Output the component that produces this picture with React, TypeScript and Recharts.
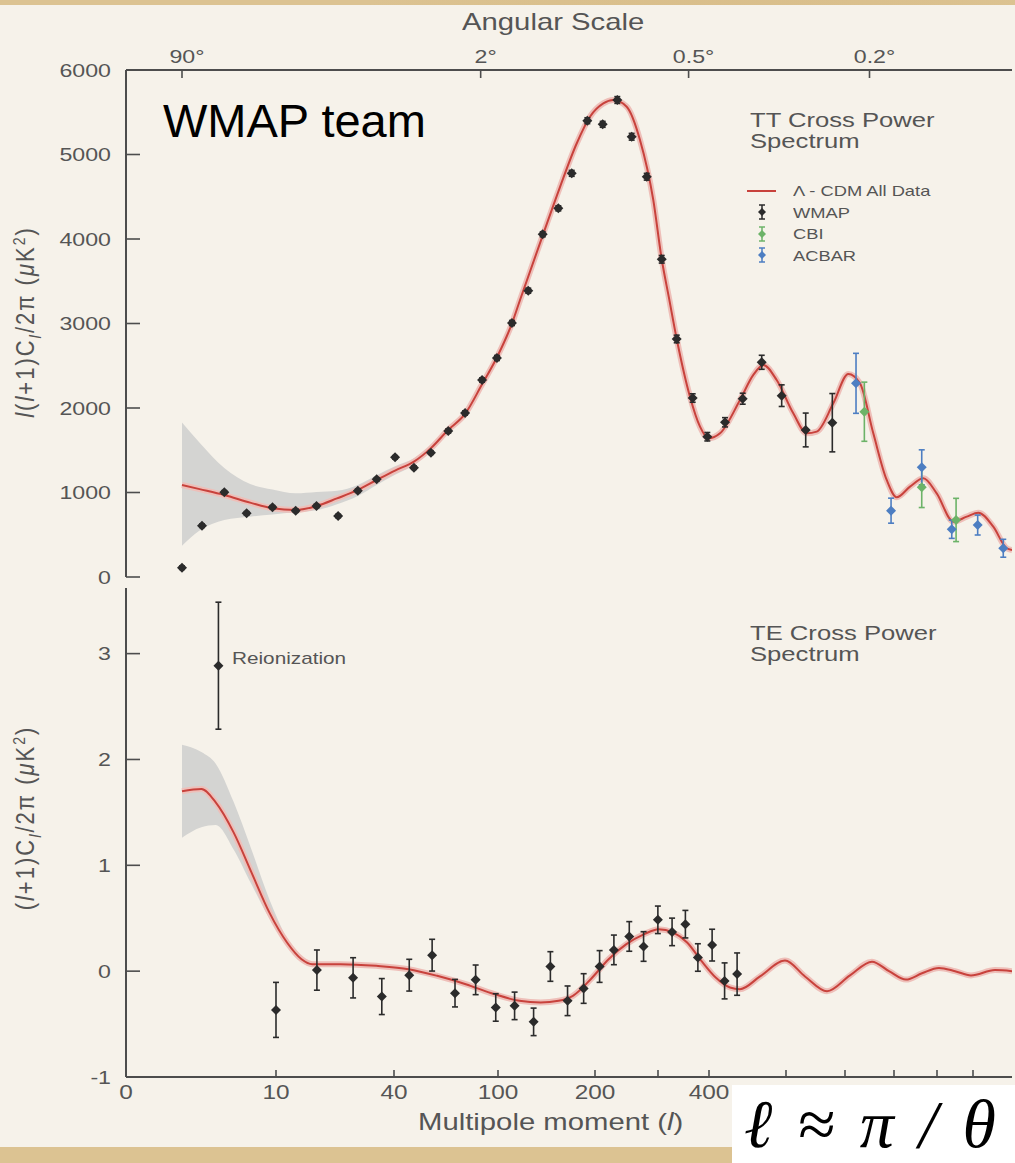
import React from "react";
import {
  Area,
  ComposedChart,
  ErrorBar,
  Legend,
  Line,
  Scatter,
  XAxis,
  YAxis,
} from "recharts";

// Multipole axis is non-linear: l values of the axis stops and their offset (px) from the left spine
const AXIS_ELL = [0, 2, 10, 40, 100, 200, 300, 400, 600, 800, 1000, 1200, 1400, 1650];
const AXIS_POS = [0, 56, 150, 268, 372, 469, 532, 583, 660, 719, 768, 811, 847, 886];

const ELL_TICKS = [0, 10, 40, 100, 200, 300, 400, 600, 800, 1000, 1200, 1400];
const ELL_LABELS = ["0", "10", "40", "100", "200", "", "400", "", "", "", "", ""];
const ANGLE_TICKS = [90, 2, 0.5, 0.2]; // degrees, l ~ 180 / theta
const TT_TICKS = [0, 1000, 2000, 3000, 4000, 5000, 6000];
const TE_TICKS = [-1, 0, 1, 2, 3];

// TT: [l, l(l+1)Cl/2pi, error]
const wmapTT = [
  [2.0, 110, 20], [3.7, 607, 20], [5.6, 1002, 20], [7.5, 754, 20], [9.7, 825, 20],
  [15.0, 785, 20], [20.3, 840, 20], [25.8, 722, 20], [30.8, 1021, 20], [35.6, 1156, 20],
  [40.6, 1416, 20], [51.5, 1294, 20], [61.3, 1471, 20], [71.3, 1728, 25], [81.0, 1941, 25],
  [90.8, 2331, 25], [99.4, 2592, 30], [114.4, 3006, 30], [131.2, 3388, 30], [146.1, 4056, 30],
  [162.2, 4363, 30], [176.0, 4777, 35], [192.1, 5400, 35], [212.2, 5357, 35], [235.4, 5645, 40],
  [258.2, 5210, 40], [282.1, 4737, 40], [307.3, 3760, 45], [336.7, 2817, 45], [368.0, 2118, 50],
  [396.7, 1660, 50], [441.6, 1831, 55], [487.5, 2110, 65], [536.9, 2541, 83], [588.8, 2146, 128],
  [666.8, 1740, 200], [757.0, 1826, 345],
];
const cbiTT = [[879, 1956, 350], [1129, 1062, 240], [1306, 675, 256]];
const acbarTT = [
  [845, 2292, 355], [988, 785, 148], [1129, 1298, 207],
  [1282, 565, 108], [1430, 615, 118], [1594, 340, 106],
];
const modelTT = [
  [2, 1089], [3.5, 1040], [5.6, 970], [7.8, 880], [9.7, 813], [15, 793], [20.3, 840],
  [25.5, 930], [30.8, 1030], [35.6, 1148], [40.6, 1260], [51.5, 1365], [61.3, 1525],
  [71.2, 1740], [81, 1930], [90.8, 2280], [99.4, 2600], [114.4, 3000], [122.7, 3278],
  [146.7, 4062], [163.9, 4615], [181.1, 5130], [194.8, 5447], [213.2, 5605], [229, 5645],
  [250.3, 5566], [271.4, 5172], [292.5, 4462], [307.3, 3760], [321.6, 3300], [336.7, 2817],
  [362.7, 2134], [382.4, 1779], [398.6, 1641], [428.6, 1700], [480.5, 2095], [515.1, 2391],
  [541, 2509], [575.8, 2331], [624.7, 1937], [670.2, 1700], [704.1, 1720], [760.3, 2055],
  [813.5, 2402], [861.2, 2292], [915.5, 1700], [970.2, 1148], [1012.6, 943], [1074.4, 1069],
  [1136.3, 1168], [1198.6, 990], [1290.6, 655], [1365.1, 714], [1434, 761], [1530, 595],
  [1616, 340], [1650, 320],
];
// cosmic variance band: [l, low, high]
const varianceTT = [
  [2, 370, 1827], [3.5, 550, 1590], [5.6, 675, 1290], [7.8, 714, 1100], [9.7, 740, 1035],
  [15, 765, 990], [20.3, 790, 1005], [25.5, 860, 1020], [30.8, 960, 1090], [35.6, 1090, 1205],
  [40.6, 1210, 1310], [51.5, 1325, 1405], [61.3, 1495, 1560], [71.2, 1712, 1768],
  [81, 1905, 1955],
];

// TE: [l, (l+1)Cl/2pi, error]
const wmapTE = [
  [10.0, -0.366, 0.26], [20.4, 0.01, 0.19], [29.6, -0.063, 0.19], [36.9, -0.24, 0.17],
  [48.8, -0.038, 0.15], [62.0, 0.151, 0.15], [75.2, -0.208, 0.13], [87.1, -0.082, 0.14],
  [98.7, -0.343, 0.13], [117.1, -0.328, 0.13], [136.7, -0.479, 0.13], [154.0, 0.044, 0.14],
  [171.7, -0.28, 0.14], [188.3, -0.164, 0.14], [207.3, 0.044, 0.15], [230.0, 0.201, 0.14],
  [254.4, 0.328, 0.14], [277.1, 0.233, 0.14], [299.8, 0.485, 0.13], [327.6, 0.371, 0.13],
  [353.7, 0.444, 0.13], [378.2, 0.129, 0.13], [408.1, 0.246, 0.15], [440.5, -0.092, 0.17],
  [473.0, -0.028, 0.2],
];
const reionization = [[5.1, 2.886, 0.6]];
const modelTE = [
  [2, 1.7], [3.65, 1.72], [4.87, 1.594], [6.39, 1.311], [7.91, 0.933], [9.43, 0.555],
  [12.8, 0.271], [16.5, 0.113], [19.2, 0.066], [26.4, 0.066], [35.5, 0.05], [48.4, 0.019],
  [64.9, -0.044], [81.4, -0.123], [97.9, -0.217], [122, -0.28], [144, -0.296], [162.5, -0.28],
  [177.2, -0.233], [195.6, -0.076], [221.6, 0.113], [249.8, 0.255], [278.2, 0.35],
  [301.2, 0.397], [329.2, 0.366], [357.1, 0.271], [385.1, 0.097], [417.4, -0.06],
  [454.5, -0.154], [480.5, -0.17], [532.5, -0.05], [597.4, 0.1], [664.4, -0.05], [739, -0.19],
  [820.4, -0.04], [910.2, 0.09], [979.6, 0.0], [1055.8, -0.08], [1130.2, -0.02], [1211, 0.03],
  [1300, 0.0], [1388.9, -0.04], [1541, 0.01], [1650, 0.0],
];
const varianceTE = [
  [2, 1.26, 2.14], [3.65, 1.36, 2.07], [4.87, 1.38, 1.96], [6.39, 1.15, 1.6],
  [7.91, 0.82, 1.15], [9.43, 0.5, 0.68], [12.8, 0.25, 0.3],
];

const U_MAX = AXIS_POS[AXIS_POS.length - 1];

function warp(l: number) {
  for (let i = 1; i < AXIS_ELL.length; i++) {
    if (l <= AXIS_ELL[i]) {
      const t = (l - AXIS_ELL[i - 1]) / (AXIS_ELL[i] - AXIS_ELL[i - 1]);
      return AXIS_POS[i - 1] + t * (AXIS_POS[i] - AXIS_POS[i - 1]);
    }
  }
  return U_MAX;
}

const points = (rows: number[][]) => rows.map(([l, v, e]) => ({ u: warp(l), v, e }));
const curve = (rows: number[][]) => rows.map(([l, v]) => ({ u: warp(l), v }));
const band = (rows: number[][]) => rows.map(([l, lo, hi]) => ({ u: warp(l), range: [lo, hi] }));

const steps = (from: number, to: number, step: number) => {
  const out: number[] = [];
  for (let i = 0; from + i * step <= to + 1e-9; i++) out.push(+(from + i * step).toFixed(3));
  return out;
};

const FONT = "'Liberation Sans', Arial, Helvetica, sans-serif";
const STRETCH = 1.22;
const AXIS = "#4d4d4d";
const LABEL = "#555";
const RED = "#c8423c";
const HALO = "#eebfb9";
const BAND = "#d4d4d2";
const BLACK = "#2b2b2b";
const GREEN = "#6cb368";
const BLUE = "#4d7ec2";

const Diamond = (props: any) => {
  const { cx, cy, fill } = props;
  if (cx == null || cy == null) return null;
  const r = 5;
  return <polygon points={`${cx},${cy - r} ${cx + r},${cy} ${cx},${cy + r} ${cx - r},${cy}`} fill={fill} />;
};

const YTick = (props: any) => {
  const { x, y, payload } = props;
  return (
    <g transform={`translate(${x},${y}) scale(${STRETCH},1)`}>
      <text textAnchor="end" dy="0.36em" fontSize={19} fill={LABEL} fontFamily={FONT}>
        {payload.value}
      </text>
    </g>
  );
};

const AngleTick = (props: any) => {
  const { x, y, index } = props;
  return (
    <g transform={`translate(${x + 5},${y}) scale(${STRETCH},1)`}>
      <text textAnchor="middle" fontSize={19} fill={LABEL} fontFamily={FONT}>
        {`${ANGLE_TICKS[index]}°`}
      </text>
    </g>
  );
};

const EllTick = (props: any) => {
  const { x, y, index } = props;
  return (
    <g transform={`translate(${x},${y}) scale(${STRETCH},1)`}>
      <text textAnchor="middle" dy="0.71em" fontSize={20} fill={LABEL} fontFamily={FONT}>
        {ELL_LABELS[index]}
      </text>
    </g>
  );
};

const LEGEND_ORDER = ["Λ - CDM All Data", "WMAP", "CBI", "ACBAR"];

const LegendBox = ({ payload }: any) => {
  const items = LEGEND_ORDER.map((n) => (payload || []).find((p: any) => p.value === n)).filter(Boolean);
  return (
    <div>
      {items.map((item: any) => (
        <div key={item.value} style={{ display: "flex", alignItems: "center", height: 21.5 }}>
          <svg width={48} height={20}>
            {item.type === "line" ? (
              <line x1={2} x2={31} y1={10} y2={10} stroke={item.color} strokeWidth={2} />
            ) : (
              <g stroke={item.color} strokeWidth={1.5}>
                <line x1={17} x2={17} y1={3} y2={17} />
                <line x1={14} x2={20} y1={3} y2={3} />
                <line x1={14} x2={20} y1={17} y2={17} />
                <polygon points="17,6 21,10 17,14 13,10" fill={item.color} stroke="none" />
              </g>
            )}
          </svg>
          <span
            style={{
              display: "inline-block",
              fontFamily: FONT,
              fontSize: 15,
              color: LABEL,
              transform: `scaleX(${STRETCH})`,
              transformOrigin: "left center",
              whiteSpace: "nowrap",
            }}
          >
            {item.value}
          </span>
        </div>
      ))}
    </div>
  );
};

const Note = ({ left, top, size, children, color = LABEL, stretch = STRETCH }: any) => (
  <div
    style={{
      position: "absolute",
      left,
      top,
      fontFamily: FONT,
      fontSize: size,
      lineHeight: 1,
      color,
      whiteSpace: "nowrap",
      transform: `scaleX(${stretch})`,
      transformOrigin: "left top",
    }}
  >
    {children}
  </div>
);

const AxisTitle = ({ cx, cy, children }: any) => (
  <div
    style={{
      position: "absolute",
      left: cx,
      top: cy,
      transform: `translate(-50%,-50%) rotate(-90deg) scaleY(1.15)`,
      fontFamily: FONT,
      fontSize: 22,
      letterSpacing: 2,
      color: LABEL,
      whiteSpace: "nowrap",
    }}
  >
    {children}
  </div>
);

const tickLine = { stroke: AXIS, strokeWidth: 1.6 };
const axisLine = { stroke: AXIS, strokeWidth: 2 };

export default function App() {
  const ttMinor = steps(0, 6000, 100);
  const teMinor = steps(-1, 3.6, 0.1);
  const ellTicks = ELL_TICKS.map(warp);
  const angleTicks = ANGLE_TICKS.map((deg) => warp(180 / deg));

  return (
    <div
      style={{
        position: "absolute",
        left: 0,
        top: 0,
        width: 1015,
        height: 1163,
        overflow: "hidden",
        background:
          "radial-gradient(circle at 20% 60%, #e9d6a8 0%, transparent 40%), radial-gradient(circle at 70% 30%, #d3b57c 0%, transparent 45%), #dcc392",
      }}
    >
      <div style={{ position: "absolute", left: 0, top: 5, width: 1015, height: 1142, background: "#f6f2ea" }} />

      {/* TT panel: data on the top (angular scale) axis, bottom axis is the plain frame line */}
      <div style={{ position: "absolute", left: 0, top: 0 }}>
        <ComposedChart width={1015} height={600} margin={{ top: 0, right: 3, bottom: 23, left: 0 }}>
          <XAxis xAxisId="ell" type="number" domain={[0, U_MAX]} allowDataOverflow
            height={0} tick={false} tickLine={false} axisLine={axisLine} />
          <XAxis xAxisId="angle" dataKey="u" orientation="top" type="number" domain={[0, U_MAX]} allowDataOverflow
            height={70} ticks={angleTicks} interval={0} tickSize={-8} tickMargin={15}
            tick={<AngleTick />} tickLine={tickLine} axisLine={axisLine} />
          <YAxis yAxisId="tt" type="number" domain={[0, 6000]} allowDataOverflow width={126}
            ticks={TT_TICKS} interval={0} tickSize={-14} tickMargin={29}
            tick={<YTick />} tickLine={tickLine} axisLine={axisLine} />
          <YAxis yAxisId="ttMinor" type="number" domain={[0, 6000]} mirror width={0}
            ticks={ttMinor} interval={0} tickSize={7} tick={false} axisLine={false} tickLine={tickLine} />
          <YAxis yAxisId="ttRight" orientation="right" type="number" domain={[0, 6000]} mirror width={0}
            ticks={TT_TICKS} interval={0} tickSize={7} tick={false}
            axisLine={{ stroke: "#9a9a9a", strokeWidth: 1 }} tickLine={tickLine} />

          <Area xAxisId="angle" yAxisId="tt" data={band(varianceTT)} dataKey="range" type="monotone"
            stroke="none" fill={BAND} fillOpacity={1} legendType="none" isAnimationActive={false} />
          <Line xAxisId="angle" yAxisId="tt" data={curve(modelTT)} dataKey="v" type="monotone"
            stroke={HALO} strokeWidth={6} dot={false} legendType="none" isAnimationActive={false} />
          <Line xAxisId="angle" yAxisId="tt" data={curve(modelTT)} dataKey="v" name="Λ - CDM All Data"
            type="monotone" stroke={RED} strokeWidth={2} dot={false} isAnimationActive={false} />
          <Scatter xAxisId="angle" yAxisId="tt" data={points(wmapTT)} dataKey="v" name="WMAP"
            fill={BLACK} shape={<Diamond />} legendType="diamond" isAnimationActive={false}>
            <ErrorBar dataKey="e" direction="y" width={3} stroke={BLACK} strokeWidth={1.6} />
          </Scatter>
          <Scatter xAxisId="angle" yAxisId="tt" data={points(cbiTT)} dataKey="v" name="CBI"
            fill={GREEN} shape={<Diamond />} legendType="diamond" isAnimationActive={false}>
            <ErrorBar dataKey="e" direction="y" width={3} stroke={GREEN} strokeWidth={1.6} />
          </Scatter>
          <Scatter xAxisId="angle" yAxisId="tt" data={points(acbarTT)} dataKey="v" name="ACBAR"
            fill={BLUE} shape={<Diamond />} legendType="diamond" isAnimationActive={false}>
            <ErrorBar dataKey="e" direction="y" width={3} stroke={BLUE} strokeWidth={1.6} />
          </Scatter>
          <Legend layout="vertical" align="center" verticalAlign="middle" content={<LegendBox />}
            wrapperStyle={{ left: 745, top: 180, width: 240 }} />
        </ComposedChart>
      </div>

      {/* TE panel */}
      <div style={{ position: "absolute", left: 0, top: 560 }}>
        <ComposedChart width={1015} height={603} margin={{ top: 28, right: 3, bottom: 0, left: 0 }}>
          <XAxis xAxisId="ell" dataKey="u" type="number" domain={[0, U_MAX]} allowDataOverflow
            height={86} ticks={ellTicks} interval={0} tickSize={-7} tickMargin={15}
            tick={<EllTick />} tickLine={tickLine} axisLine={axisLine} />
          <YAxis yAxisId="te" type="number" domain={[-1, 3.62]} allowDataOverflow width={126}
            ticks={TE_TICKS} interval={0} tickSize={-14} tickMargin={29}
            tick={<YTick />} tickLine={tickLine} axisLine={axisLine} />
          <YAxis yAxisId="teMinor" type="number" domain={[-1, 3.62]} allowDataOverflow mirror width={0}
            ticks={teMinor} interval={0} tickSize={7} tick={false} axisLine={false} tickLine={tickLine} />
          <YAxis yAxisId="teRight" orientation="right" type="number" domain={[-1, 3.62]} allowDataOverflow
            mirror width={0} ticks={TE_TICKS} interval={0} tickSize={7} tick={false}
            axisLine={{ stroke: "#9a9a9a", strokeWidth: 1 }} tickLine={tickLine} />

          <Area xAxisId="ell" yAxisId="te" data={band(varianceTE)} dataKey="range" type="monotone"
            stroke="none" fill={BAND} fillOpacity={1} legendType="none" isAnimationActive={false} />
          <Line xAxisId="ell" yAxisId="te" data={curve(modelTE)} dataKey="v" type="monotone"
            stroke={HALO} strokeWidth={6} dot={false} legendType="none" isAnimationActive={false} />
          <Line xAxisId="ell" yAxisId="te" data={curve(modelTE)} dataKey="v" type="monotone"
            stroke={RED} strokeWidth={2} dot={false} isAnimationActive={false} />
          <Scatter xAxisId="ell" yAxisId="te" data={points(wmapTE)} dataKey="v"
            fill={BLACK} shape={<Diamond />} isAnimationActive={false}>
            <ErrorBar dataKey="e" direction="y" width={3} stroke={BLACK} strokeWidth={1.6} />
          </Scatter>
          <Scatter xAxisId="ell" yAxisId="te" data={points(reionization)} dataKey="v"
            fill={BLACK} shape={<Diamond />} isAnimationActive={false}>
            <ErrorBar dataKey="e" direction="y" width={3} stroke={BLACK} strokeWidth={1.6} />
          </Scatter>
        </ComposedChart>
      </div>

      <Note left={462} top={10} size={24}>Angular Scale</Note>
      <Note left={163} top={97} size={47} color="#000" stretch={1}>WMAP team</Note>
      <Note left={750} top={109} size={21}>TT Cross Power<br />Spectrum</Note>
      <Note left={750} top={622} size={21}>TE Cross Power<br />Spectrum</Note>
      <Note left={232} top={650} size={17}>Reionization</Note>
      <Note left={418} top={1110} size={24}>
        Multipole moment (<i>l</i>)
      </Note>

      <AxisTitle cx={27} cy={322}>
        <i>l</i>(<i>l</i>+1)C<sub style={{ fontSize: 15 }}><i>l</i></sub>/2π (<i>μ</i>K<sup style={{ fontSize: 14 }}>2</sup>)
      </AxisTitle>
      <AxisTitle cx={27} cy={818}>
        (<i>l</i>+1)C<sub style={{ fontSize: 15 }}><i>l</i></sub>/2π (<i>μ</i>K<sup style={{ fontSize: 14 }}>2</sup>)
      </AxisTitle>

      <div
        style={{
          position: "absolute",
          left: 732,
          top: 1085,
          width: 283,
          height: 78,
          background: "#ffffff",
        }}
      >
        <div
          style={{
            position: "absolute",
            left: 12,
            top: 5,
            fontFamily: "'Liberation Serif', 'DejaVu Serif', serif",
            fontStyle: "italic",
            fontSize: 68,
            lineHeight: 1,
            color: "#000",
            whiteSpace: "nowrap",
            wordSpacing: 8,
          }}
        >
          ℓ ≈ π / θ
        </div>
      </div>
    </div>
  );
}
